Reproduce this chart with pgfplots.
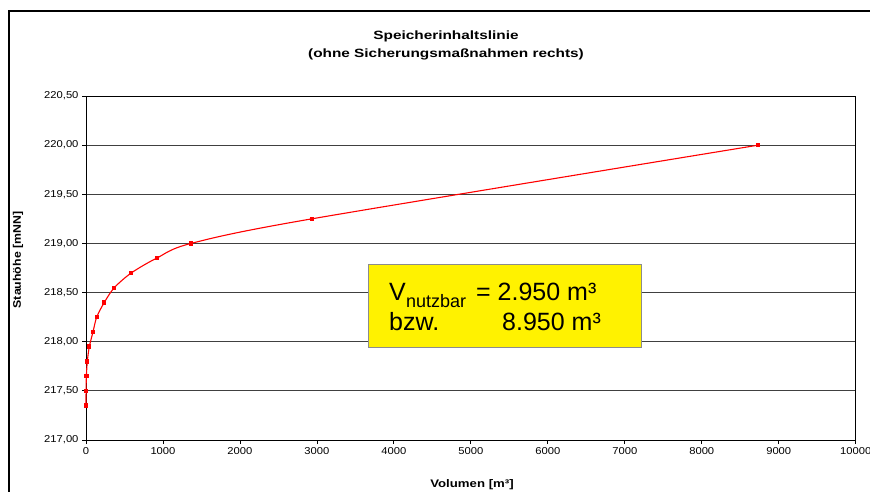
\documentclass[border=0pt]{standalone}
\usepackage{pgfplots}
\pgfplotsset{compat=1.18}
\usepackage{fontspec}
\setmainfont{Liberation Sans}
\newfontfamily\chartfont[FakeStretch=1.12]{Liberation Sans}
\newfontfamily\titlefont[FakeStretch=1.28]{Liberation Sans}
\newfontfamily\labelfont[FakeStretch=1.2]{Liberation Sans}
\begin{document}
\begin{tikzpicture}[x=1pt,y=1pt]
\useasboundingbox (0,0) rectangle (870,491);
\draw[line width=1.5pt] (9,-10) -- (9,480) -- (880,480);
\begin{axis}[at={(86pt,51pt)}, anchor=south west, scale only axis,
  width=769.7pt, height=344pt,
  xmin=0, xmax=10000, ymin=217, ymax=220.5,
  xtick={0,1000,...,10000}, ytick={217,217.5,218,218.5,219,219.5,220,220.5},
  ymajorgrids, major grid style={black!75, line width=0.8pt},
  axis line style={black, line width=0.8pt},
  tick align=outside, tick pos=left, major tick length=4pt,
  tick style={black, line width=0.8pt},
  ticklabel style={font=\chartfont\fontsize{10}{12}\selectfont},
  /pgf/number format/assume math mode=true,
  xticklabel style={/pgf/number format/set thousands separator={}},
  scaled x ticks=false, scaled y ticks=false,
  yticklabel style={/pgf/number format/.cd, fixed, fixed zerofill, precision=2, use comma},
  clip=false,
]
\addplot[red, line width=1.1pt, smooth, mark=square*, mark size=1.6pt, mark options={solid, fill=red, draw=red}]
  coordinates {
  (0,217.35) (1,217.50) (5,217.65) (17,217.80) (43,217.95) (91,218.10)
  (139,218.25) (238,218.40) (368,218.55) (589,218.70) (918,218.85)
  (1364,219.00) (2932,219.25) (8735,220.00)
  };
\end{axis}
\node[font=\titlefont\bfseries\fontsize{12}{14}\selectfont, anchor=base] at (446,451) {Speicherinhaltslinie};
\node[font=\titlefont\bfseries\fontsize{12}{14}\selectfont, anchor=base] at (446,433) {(ohne Sicherungsmaßnahmen rechts)};
\node[font=\labelfont\bfseries\fontsize{11}{13}\selectfont, anchor=base] at (472,4) {Volumen [m³]};
\node[font=\chartfont\bfseries\fontsize{11}{13}\selectfont, rotate=90, anchor=center] at (18,231) {Stauhöhe [mNN]};
\draw[fill=yellow, draw=black!45, line width=0.8pt] (368,227) rectangle (641,144);
\node[anchor=base west, inner sep=0, font=\fontsize{25}{30}\selectfont] at (389,191) {V};
\node[anchor=base west, inner sep=0, font=\fontsize{18}{22}\selectfont] at (406,184) {nutzbar};
\node[anchor=base west, inner sep=0, font=\fontsize{25}{30}\selectfont] at (476,191) {= 2.950 m³};
\node[anchor=base west, inner sep=0, font=\fontsize{25}{30}\selectfont] at (389,161) {bzw.};
\node[anchor=base west, inner sep=0, font=\fontsize{25}{30}\selectfont] at (502,161) {8.950 m³};
\end{tikzpicture}
\end{document}
